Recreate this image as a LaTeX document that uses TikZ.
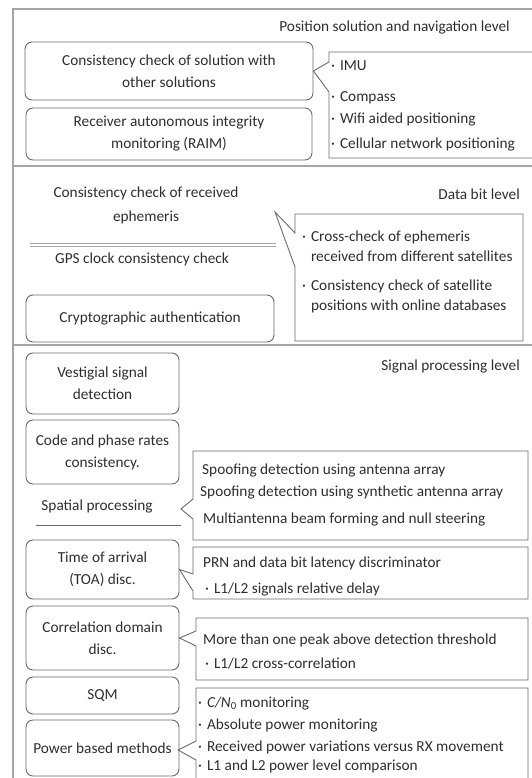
\documentclass[tikz,border=0pt]{standalone}
\usepackage{fontspec}
\setmainfont{Carlito}
\usepackage{tikz}
\usetikzlibrary{positioning, calc}
\usepackage{xcolor}
\definecolor{inkgray}{HTML}{2E2E2E}
\definecolor{boxgray}{HTML}{6A6A6A}
\definecolor{framegray}{HTML}{A5A5A5}
\newcommand{\dotitem}{\textperiodcentered\hspace{5pt}}

\begin{document}
\begin{tikzpicture}[x=1pt, y=-1pt,
  every node/.style={font=\fontsize{15.3}{22}\selectfont, text=inkgray, inner sep=0pt},
  method/.style={draw=boxgray, line width=0.9pt, rounded corners=7pt, align=center, minimum width=153pt},
  levelname/.style={anchor=base east},
  item/.style={anchor=base west, align=left},
  callout/.style={draw=boxgray, line width=0.9pt},
  level/.style={draw=framegray, line width=1.6pt}]
  \useasboundingbox (0,0) rectangle (531,778);

  % the three levels
  \draw[level] (13,9) rectangle (545,800);
  \draw[level] (13,166) -- (545,166);
  \draw[level] (13,345) -- (545,345);

  % position solution and navigation level
  \node[levelname] (posname) at (510,32) {Position solution and navigation level};
  \node[method, minimum width=288pt, minimum height=58pt] (consol) at (169,71)
    {Consistency check of solution with\\other solutions};
  \node[method, minimum width=286pt, minimum height=52pt] (raim) at (169,134)
    {Receiver autonomous integrity\\monitoring (RAIM)};
  \coordinate (consoltip) at (consol.east);
  \draw[callout] (545,52) -- (329,52) -- (329,62) -- (consoltip) -- (329,92) -- (329,158) -- (545,158);
  \foreach \y/\t in {71/IMU,102/Compass,124/Wifi aided positioning,149/Cellular network positioning}{
    \node[item] at (331,\y) {\dotitem\t};
  }

  % data bit level
  \node[levelname] (bitname) at (520,199) {Data bit level};
  \node[align=center, font=\fontsize{15.3}{24}\selectfont] (ephem) at (146,205)
    {Consistency check of received\\ephemeris};
  \draw[framegray, line width=0.8pt, double, double distance=2.5pt] (30,245) -- (276,245);
  \node[anchor=base] (clock) at (142,263) {GPS clock consistency check};
  \node[method, minimum width=248pt, minimum height=47pt] (crypto) at (150,318.5)
    {Cryptographic authentication};
  \coordinate (ephemtip) at (275,212);
  \draw[callout] (295,233) -- (295,214) -- (523,214) -- (523,341) -- (295,341) -- (295,267)
    -- (ephemtip) -- cycle;
  \node[item, font=\fontsize{15.3}{20}\selectfont] at (302,261)
    {\dotitem Cross-check of ephemeris\\\hphantom{\dotitem}received from different satellites};
  \node[item, font=\fontsize{15.3}{20}\selectfont] at (302,310)
    {\dotitem Consistency check of satellite\\\hphantom{\dotitem}positions with online databases};

  % signal processing level
  \node[levelname] (signame) at (520,370) {Signal processing level};
  \node[method, minimum height=61pt] (vestig) at (102.5,383.5) {Vestigial signal\\detection};
  \node[method, minimum height=64pt] (rates) at (102.5,452) {Code and phase rates\\consistency.};
  \node (spatial) at (97,506) {Spatial processing};
  \draw[boxgray, line width=0.6pt] (36,525) -- (181,525);
  \node[method, minimum height=59pt] (toa) at (102.5,569.5) {Time of arrival\\(TOA) disc.};
  \node[method, minimum height=64pt] (corr) at (102.5,638) {Correlation domain\\disc.};
  \node[method, minimum height=37pt] (sqm) at (102.5,695.5) {SQM};
  \node[method, minimum height=56pt] (power) at (102.5,748) {Power based methods};

  \coordinate (spatialtip) at (181,509);
  \draw[callout] (193,499) -- (193,451) -- (528,451) -- (528,540) -- (193,540) -- (193,519)
    -- (spatialtip) -- cycle;
  \node[item] at (202,474) {Spoofing detection using antenna array};
  \node[item] at (200,496) {Spoofing detection using synthetic antenna array};
  \node[item] at (203,523) {Multiantenna beam forming and null steering};

  \coordinate (toatip) at (toa.east);
  \draw[callout] (193,574) -- (193,547) -- (528,547) -- (528,599) -- (193,599) -- (193,591)
    -- (toatip) -- cycle;
  \node[item] at (203,567) {PRN and data bit latency discriminator};
  \node[item] at (205,593) {\dotitem L1/L2 signals relative delay};

  \coordinate (corrtip) at (corr.east);
  \draw[callout] (196,631) -- (196,618) -- (528,618) -- (528,680) -- (196,680) -- (196,646)
    -- (corrtip) -- cycle;
  \node[item] at (203,644) {More than one peak above detection threshold};
  \node[item] at (205,668) {\dotitem L1/L2 cross-correlation};

  \coordinate (powertip) at (178,750);
  \draw[callout] (196,800) -- (196,760) -- (powertip) -- (196,741) -- (196,688) -- (528,688) -- (528,800);
  \foreach \y/\t in {707/{\textit{C/N}\textsubscript{0} monitoring},729/Absolute power monitoring,
    751/Received power variations versus RX movement,770/L1 and L2 power level comparison}{
    \node[item] at (198,\y) {\dotitem\t};
  }
\end{tikzpicture}
\end{document}
